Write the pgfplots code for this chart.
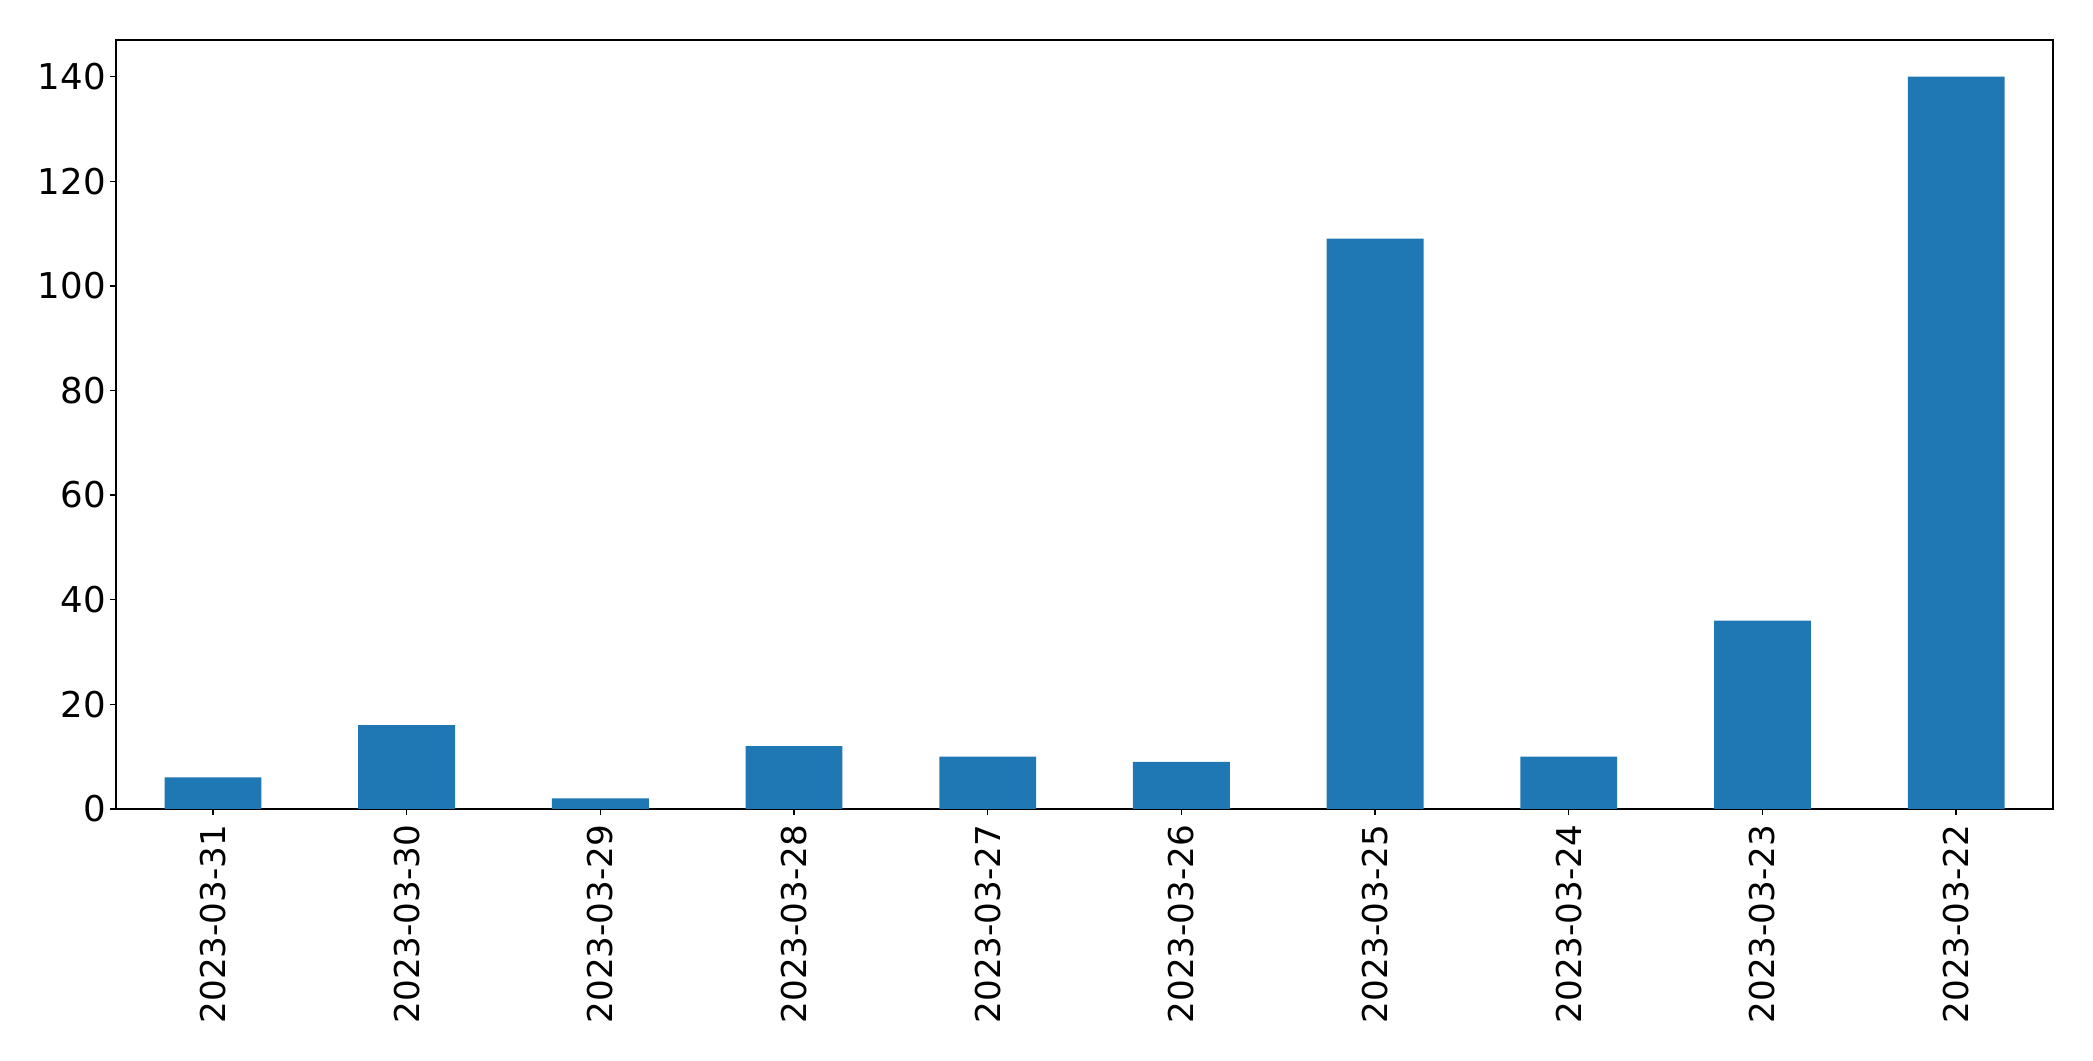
\documentclass[border=0pt]{standalone}
\usepackage{fontspec}
\setmainfont{DejaVu Sans}
\usepackage{pgfplots}
\pgfplotsset{compat=1.18}
\definecolor{mplblue}{HTML}{1F77B4}

\begin{document}
\begin{tikzpicture}[x=1pt,y=1pt]
  \begin{axis}[
      at={(0,0)}, anchor=south west,
      width=697.3pt, height=276.8pt,
      scale only axis,
      ybar, bar width=0.5,
      xmin=-0.5, xmax=9.5,
      ymin=0, ymax=147,
      xtick={0,...,9},
      xticklabels={2023-03-31,2023-03-30,2023-03-29,2023-03-28,2023-03-27,2023-03-26,2023-03-25,2023-03-24,2023-03-23,2023-03-22},
      ytick={0,20,...,140},
      tick align=outside,
      xtick pos=bottom, ytick pos=left,
      major tick length=2.2pt,
      axis line style={line width=0.5pt},
      every tick/.style={black, line width=0.5pt},
      xticklabel style={rotate=90, anchor=east, font=\fontsize{12.3}{15}\selectfont},
      yticklabel style={font=\fontsize{12.8}{15}\selectfont, xshift=2pt},
      /pgf/number format/assume math mode=true,
      yticklabel style={/pgf/number format/fixed},
    ]
    \addplot[fill=mplblue, draw=none] coordinates {
      (0,6) (1,16) (2,2) (3,12) (4,10) (5,9) (6,109) (7,10) (8,36) (9,140)
    };
  \end{axis}
  \pgfresetboundingbox
  \path (-41.8pt,-90.7pt) rectangle (711.7pt,291.2pt);
\end{tikzpicture}
\end{document}
